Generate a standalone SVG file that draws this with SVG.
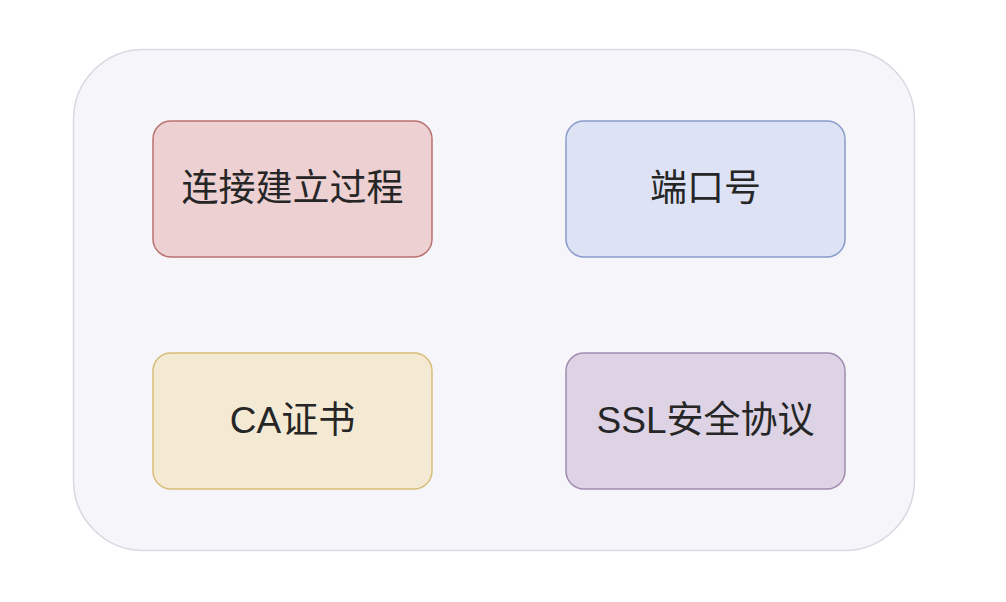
<svg xmlns="http://www.w3.org/2000/svg" width="1006" height="602" viewBox="0 0 1006 602">
<style>
.node rect{stroke-width:1.5}
.lbl{font-family:"Liberation Sans","Noto Sans CJK SC",sans-serif;font-size:37px;fill:#262626;text-anchor:middle;dominant-baseline:central}
</style>
<rect width="1006" height="602" fill="#ffffff"/>
<g id="container">
<rect x="73.5" y="49.5" width="841" height="501" rx="70" fill="#f5f5fa" stroke="#d9d8e3" stroke-width="1.5"/>
</g>
<g id="connectors"></g>
<g id="n1" class="node">
<rect x="153" y="121" width="279" height="136" rx="18" fill="#ecd0d2" stroke="#b8726f"/>
<text class="lbl" x="292.5" y="188">连接建立过程</text>
</g>
<g id="n2" class="node">
<rect x="566" y="121" width="279" height="136" rx="18" fill="#dde3f4" stroke="#8a9ccb"/>
<text class="lbl" x="705.5" y="188">端口号</text>
</g>
<g id="n3" class="node">
<rect x="153" y="353" width="279" height="136" rx="18" fill="#f4ead3" stroke="#d7bd78"/>
<text class="lbl" x="292.5" y="420">CA证书</text>
</g>
<g id="n4" class="node">
<rect x="566" y="353" width="279" height="136" rx="18" fill="#ddd3e5" stroke="#a18bb0"/>
<text class="lbl" x="705.5" y="420">SSL安全协议</text>
</g>
</svg>
